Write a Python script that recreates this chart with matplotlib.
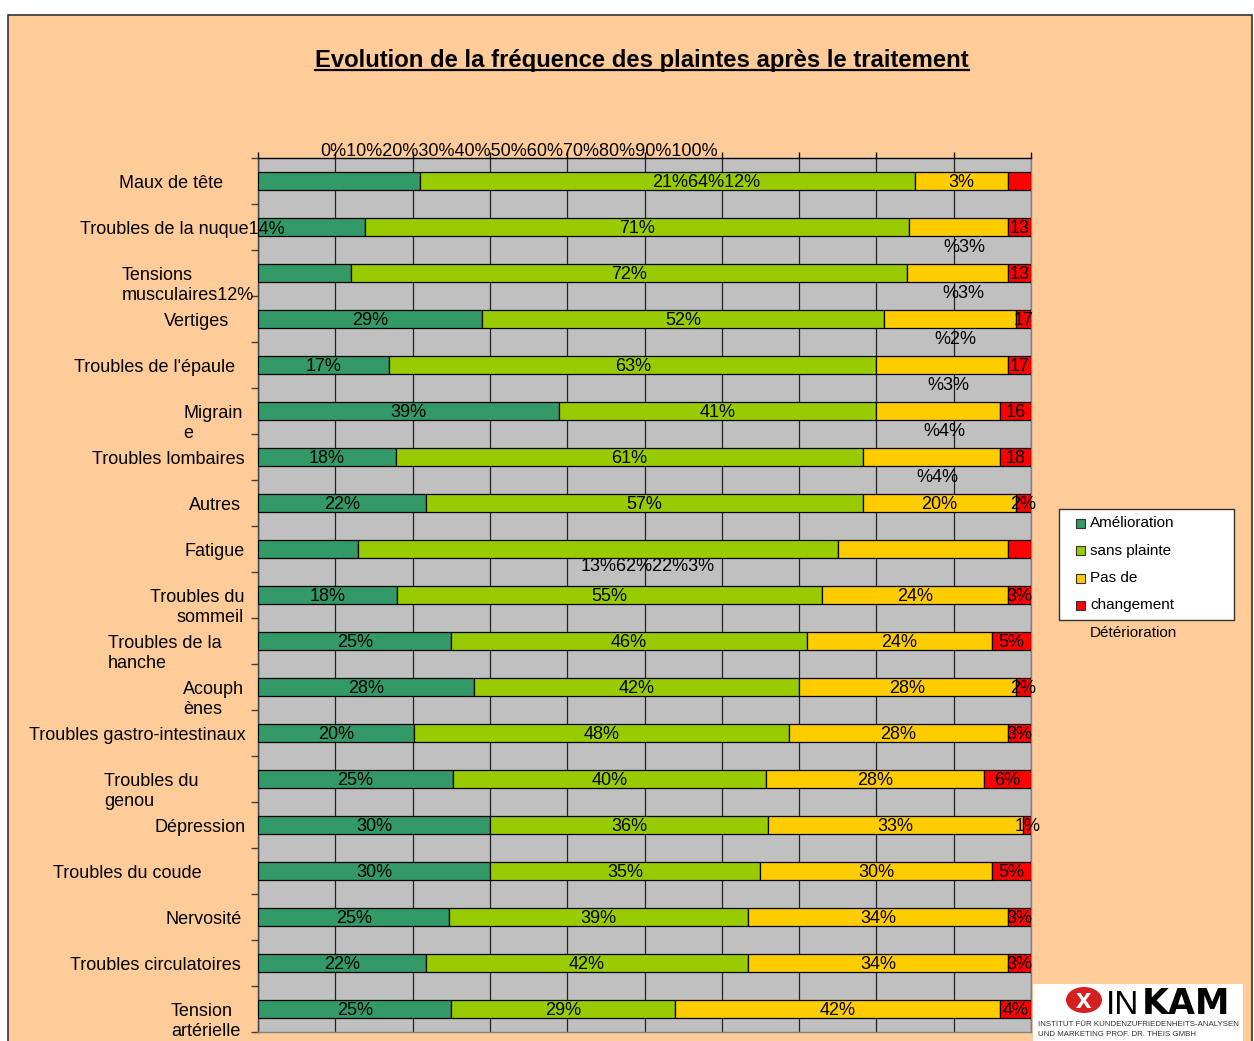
import matplotlib
matplotlib.use("Agg")
import matplotlib.pyplot as plt
import numpy as np
from matplotlib.patches import Rectangle, Ellipse
from matplotlib.lines import Line2D
from matplotlib.transforms import blended_transform_factory, ScaledTranslation

plt.rcParams["font.family"] = ["Liberation Sans", "DejaVu Sans"]

# ---------------- data ----------------
title = "Evolution de la fréquence des plaintes après le traitement"
series_names = ["Amélioration", "sans plainte", "Pas de changement", "Détérioration"]
legend_labels = ["Amélioration", "sans plainte", "Pas de", "changement"]
legend_extra = "Détérioration"

category_labels = [
    "Maux de tête",
    "Troubles de la nuque14%",
    "Tensions\nmusculaires12%",
    "Vertiges",
    "Troubles de l'épaule",
    "Migrain\ne",
    "Troubles lombaires",
    "Autres",
    "Fatigue",
    "Troubles du\nsommeil",
    "Troubles de la\nhanche",
    "Acouph\nènes",
    "Troubles gastro-intestinaux",
    "Troubles du\ngenou",
    "Dépression",
    "Troubles du coude",
    "Nervosité",
    "Troubles circulatoires",
    "Tension\nartérielle",
]

amelioration = [21, 14, 12, 29, 17, 39, 18, 22, 13, 18, 25, 28, 20, 25, 30, 30, 25, 22, 25]
sans_plainte = [64, 71, 72, 52, 63, 41, 61, 57, 62, 55, 46, 42, 48, 40, 36, 35, 39, 42, 29]
pas_de_changement = [12, 13, 13, 17, 17, 16, 18, 20, 22, 24, 24, 28, 28, 28, 33, 30, 34, 34, 42]
deterioration = [3, 3, 3, 2, 3, 4, 4, 2, 3, 3, 5, 2, 3, 6, 1, 5, 3, 3, 4]

# labels as they appear on each segment
segment_labels = [
    ["", "21%64%12%", "3%", ""],
    ["", "71%", "", "13"],
    ["", "72%", "", "13"],
    ["29%", "52%", "", "17"],
    ["17%", "63%", "", "17"],
    ["39%", "41%", "", "16"],
    ["18%", "61%", "", "18"],
    ["22%", "57%", "20%", "2%"],
    ["", "", "", ""],
    ["18%", "55%", "24%", "3%"],
    ["25%", "46%", "24%", "5%"],
    ["28%", "42%", "28%", "2%"],
    ["20%", "48%", "28%", "3%"],
    ["25%", "40%", "28%", "6%"],
    ["30%", "36%", "33%", "1%"],
    ["30%", "35%", "30%", "5%"],
    ["25%", "39%", "34%", "3%"],
    ["22%", "42%", "34%", "3%"],
    ["25%", "29%", "42%", "4%"],
]
# wrapped label fragments below the bars
below_labels = ["", "%3%", "%3%", "%2%", "%3%", "%4%", "%4%", "", "13%62%22%3%",
                "", "", "", "", "", "", "", "", "", ""]

x_ticks = [0, 10, 20, 30, 40, 50, 60, 70, 80, 90, 100]
x_tick_labels = [f"{t}%" for t in x_ticks]

colors = ["#339966", "#99CC00", "#FFCC00", "#FF0000"]

# ---------------- layout ----------------
W, H = 1254, 1041
fig = plt.figure(figsize=(W / 100, H / 100), dpi=100, facecolor="white")

def fx(px):
    return px / W

def fy(py):
    return 1 - py / H

# orange page with border
fig.patches.append(Rectangle((fx(8), fy(1050)), fx(1252) - fx(8), fy(15) - fy(1050),
                             transform=fig.transFigure, facecolor="#FFCC99",
                             edgecolor="#333333", linewidth=1.2, zorder=-10))

ax_left, ax_right, ax_top, ax_bot = 258, 1031, 158, 1032
ax = fig.add_axes([fx(ax_left), fy(ax_bot), fx(ax_right) - fx(ax_left), fy(ax_top) - fy(ax_bot)])
ax.set_zorder(1)
ax.set_facecolor("#C0C0C0")

data = np.array([amelioration, sans_plainte, pas_de_changement, deterioration], dtype=float)
pct = data / data.sum(axis=0) * 100
n = len(category_labels)
y = np.arange(n)
left = np.zeros(n)
for k in range(4):
    ax.barh(y, pct[k], left=left, height=0.39, color=colors[k], edgecolor="black",
            linewidth=0.9, zorder=3, label=series_names[k])
    left += pct[k]

ax.set_xlim(0, 100)
ax.set_ylim(n - 0.5, -0.5)
ax.set_xticks(x_ticks)
ax.xaxis.tick_top()
ax.tick_params(axis="x", which="both", labeltop=False, labelbottom=False, direction="out",
               length=4, width=1, color="black", top=True, bottom=False)
ax.set_yticks(np.arange(-0.5, n, 1))
ax.set_yticklabels([])
ax.tick_params(axis="y", direction="out", length=5, width=1, color="#404040")
ax.grid(axis="x", color="#222222", linewidth=0.9, zorder=1)
ax.set_axisbelow(True)
ax.spines["top"].set_color("black")
ax.spines["left"].set_color("#404040")
ax.spines["right"].set_color("#808080")
ax.spines["bottom"].set_color("#808080")
for s in ax.spines.values():
    s.set_linewidth(1)

FS = 13

def off(dx_px=0, dy_px=0):
    return ScaledTranslation(dx_px / 100, -dy_px / 100, fig.dpi_scale_trans)

# segment labels
cum = np.vstack([np.zeros(n), np.cumsum(pct, axis=0)])
label_dx = {(0, 1): 38}
for i in range(n):
    for k in range(4):
        t = segment_labels[i][k]
        if not t:
            continue
        xc = (cum[k, i] + cum[k + 1, i]) / 2
        ax.text(xc, i, t, ha="center", va="center", fontsize=FS, color="black",
                transform=ax.transData + off(label_dx.get((i, k), 0), 1), zorder=5,
                clip_on=False)
    if below_labels[i]:
        if i == 8:
            xc = 50
            dy = 17
        else:
            xc = (cum[2, i] + cum[3, i]) / 2
            dy = 20
        ax.text(xc, i, below_labels[i], ha="center", va="center", fontsize=FS,
                color="black", transform=ax.transData + off(6 if i != 8 else 3, dy),
                zorder=5, clip_on=False)

# category labels (each line drawn separately)
label_anchor = [(119, "left"), (80, "left"), (122, "left"), (164, "left"), (74, "left"),
                (183, "left"), (92, "left"), (189, "left"), (184, "left"), (244, "right"),
                (108, "left"), (183, "left"), (29, "left"), (104, "left"), (154, "left"),
                (53, "left"), (166, "left"), (70, "left"), (171, "left")]
bt = blended_transform_factory(fig.transFigure, ax.transData)
for i, lab in enumerate(category_labels):
    xpx, ha = label_anchor[i]
    for j, line in enumerate(lab.split("\n")):
        fig.text(fx(xpx), i, line, ha=ha, va="center", fontsize=FS, color="black",
                 transform=bt + off(0, 2 + 20 * j), zorder=5)

# crammed top tick labels
fig.text(fx(519), fy(151), "".join(x_tick_labels), ha="center", va="center",
         fontsize=FS, color="black", zorder=5)

# title with underline
tt = fig.text(fx(642), fy(67), title, ha="center", va="baseline", fontsize=17.2,
              fontweight="bold", color="black")

# legend (drawn as box with swatches)
fig.patches.append(Rectangle((fx(1059), fy(620)), fx(1234) - fx(1059), fy(509) - fy(620),
                             transform=fig.transFigure, facecolor="white",
                             edgecolor="#333333", linewidth=1, zorder=2))
for k, lab in enumerate(legend_labels):
    yc = 523 + 27.5 * k
    fig.patches.append(Rectangle((fx(1076), fy(yc + 4.5)), fx(9), 9 / H,
                                 transform=fig.transFigure, facecolor=colors[k],
                                 edgecolor="#333333", linewidth=0.8, zorder=3))
    fig.text(fx(1090), fy(yc), lab, ha="left", va="center", fontsize=11, color="black",
             zorder=4)
fig.text(fx(1090), fy(633), legend_extra, ha="left", va="center", fontsize=11, color="black")

# logo
fig.patches.append(Rectangle((fx(1033), fy(1045)), fx(1243) - fx(1033), fy(984) - fy(1045),
                             transform=fig.transFigure, facecolor="white", edgecolor="none",
                             zorder=2))
fig.patches.append(Ellipse((fx(1084), fy(1000)), fx(36), 26 / H, transform=fig.transFigure,
                           facecolor="#D42020", edgecolor="none", zorder=3))
fig.text(fx(1084), fy(1001), "x", ha="center", va="center", fontsize=20, color="white",
         fontweight="bold", zorder=4)
t_in = fig.text(fx(1106), fy(1014), "IN", ha="left", va="baseline", fontsize=24,
                color="black", zorder=4)
fig.text(fx(1038), fy(1025), "INSTITUT FÜR KUNDENZUFRIEDENHEITS-ANALYSEN", ha="left",
         va="center", fontsize=5.7, color="#333333", zorder=4)
fig.text(fx(1038), fy(1034), "UND MARKETING PROF. DR. THEIS GMBH", ha="left",
         va="center", fontsize=5.7, color="#333333", zorder=4)

fig.canvas.draw()
bb = tt.get_window_extent()
fig.lines.append(Line2D([bb.x0 / W, bb.x1 / W], [fy(70), fy(70)], transform=fig.transFigure,
                        color="black", linewidth=1.6))
bin_ = t_in.get_window_extent()
fig.text((bin_.x1 + 2) / W, fy(1014), "KAM", ha="left", va="baseline", fontsize=25,
         color="black", fontweight="bold", family="DejaVu Sans", zorder=4)

fig.savefig("out.png", dpi=100)
